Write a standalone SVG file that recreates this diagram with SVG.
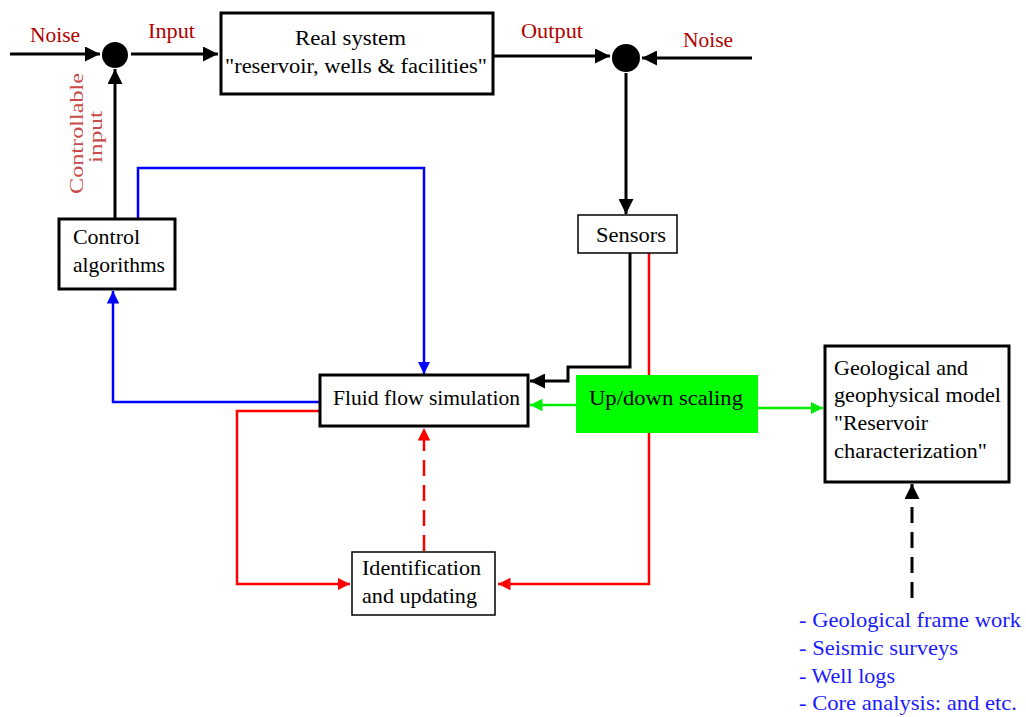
<svg xmlns="http://www.w3.org/2000/svg" width="1026" height="717" viewBox="0 0 1026 717">
<style>
text{font-family:"Liberation Serif","Times New Roman",serif;font-size:22px;fill:#000}
.lbl{fill:#b00000}
.ctl{fill:#c84a4a;font-size:19px}
.blu{fill:#1a1aff}
.box{fill:#fff;stroke:#000;stroke-width:3}
.thin{fill:#fff;stroke:#000;stroke-width:1.5}
.k{stroke:#000;stroke-width:3;fill:none}
.b{stroke:#0000ff;stroke-width:2.5;fill:none}
.r{stroke:#ff0000;stroke-width:2.5;fill:none}
.g{stroke:#00ee00;stroke-width:2.5;fill:none}
</style>
<defs>
<marker id="ak" viewBox="0 0 10 10" refX="10" refY="5" markerWidth="5" markerHeight="5" markerUnits="strokeWidth" orient="auto"><path d="M0,0 L10,5 L0,10 z" fill="#000"/></marker>
<marker id="ab" viewBox="0 0 10 10" refX="10" refY="5" markerWidth="5" markerHeight="5" markerUnits="strokeWidth" orient="auto"><path d="M0,0 L10,5 L0,10 z" fill="#0000ff"/></marker>
<marker id="ar" viewBox="0 0 10 10" refX="10" refY="5" markerWidth="5" markerHeight="5" markerUnits="strokeWidth" orient="auto"><path d="M0,0 L10,5 L0,10 z" fill="#ff0000"/></marker>
<marker id="ag" viewBox="0 0 10 10" refX="10" refY="5" markerWidth="5" markerHeight="5" markerUnits="strokeWidth" orient="auto"><path d="M0,0 L10,5 L0,10 z" fill="#00ee00"/></marker>
</defs>
<g id="connectors">
<path class="k" d="M10,54 H100" marker-end="url(#ak)"/>
<path class="k" d="M131,54 H218" marker-end="url(#ak)"/>
<path class="k" d="M115,218 V69" marker-end="url(#ak)"/>
<path class="k" d="M493,56 H610" marker-end="url(#ak)"/>
<path class="k" d="M752,58 H642" marker-end="url(#ak)"/>
<path class="k" d="M626,73 V214" marker-end="url(#ak)"/>
<path class="k" d="M630,253 V367 H568 V381 H530" marker-end="url(#ak)"/>
<path class="b" d="M138,218 V168 H424 V374" marker-end="url(#ab)"/>
<path class="b" d="M320,402 H113 V291" marker-end="url(#ab)"/>
<path class="r" d="M320,411 H237 V584 H350" marker-end="url(#ar)"/>
<path class="r" d="M649,253 V584 H498" marker-end="url(#ar)"/>
<path class="r" d="M424,551 V428" stroke-dasharray="16,9" marker-end="url(#ar)"/>
<path class="g" d="M576,405 H530" marker-end="url(#ag)"/>
<path class="g" d="M758,408 H823" marker-end="url(#ag)"/>
<path class="k" d="M912,598 V484" stroke-dasharray="16,9" marker-end="url(#ak)"/>
</g>
<g id="junction-left"><circle cx="115" cy="55" r="13" fill="#000"/></g>
<g id="junction-right"><circle cx="626" cy="58" r="14" fill="#000"/></g>
<g id="labels">
<text class="lbl" x="30" y="42" textLength="50" lengthAdjust="spacingAndGlyphs">Noise</text>
<text class="lbl" x="148" y="38" textLength="47" lengthAdjust="spacingAndGlyphs">Input</text>
<text class="lbl" x="521" y="38" textLength="62" lengthAdjust="spacingAndGlyphs">Output</text>
<text class="lbl" x="683" y="47" textLength="50" lengthAdjust="spacingAndGlyphs">Noise</text>
<text class="ctl" transform="translate(83,194) rotate(-90)" textLength="121" lengthAdjust="spacingAndGlyphs">Controllable</text>
<text class="ctl" transform="translate(102,163) rotate(-90)" textLength="52" lengthAdjust="spacingAndGlyphs">input</text>
</g>
<g id="real-system">
<rect class="box" x="221" y="13" width="272" height="81"/>
<text x="295" y="45" textLength="111" lengthAdjust="spacingAndGlyphs">Real system</text>
<text x="225" y="73" textLength="262" lengthAdjust="spacingAndGlyphs">"reservoir, wells &amp; facilities"</text>
</g>
<g id="control-algorithms">
<rect class="box" x="59" y="219" width="116" height="70"/>
<text x="73" y="244" textLength="67" lengthAdjust="spacingAndGlyphs">Control</text>
<text x="73" y="272" textLength="92" lengthAdjust="spacingAndGlyphs">algorithms</text>
</g>
<g id="sensors">
<rect class="thin" x="578" y="215" width="99" height="38"/>
<text x="596" y="242" textLength="70" lengthAdjust="spacingAndGlyphs">Sensors</text>
</g>
<g id="fluid-flow-simulation">
<rect class="box" x="320" y="375" width="208" height="51"/>
<text x="333" y="405" textLength="187" lengthAdjust="spacingAndGlyphs">Fluid flow simulation</text>
</g>
<g id="up-down-scaling">
<rect x="576" y="375" width="182" height="58" fill="#00ff00"/>
<text x="589" y="405" textLength="154" lengthAdjust="spacingAndGlyphs">Up/down scaling</text>
</g>
<g id="geological-model">
<rect class="box" x="825" y="346" width="184" height="136"/>
<text x="834" y="375" textLength="134" lengthAdjust="spacingAndGlyphs">Geological and</text>
<text x="834" y="402" textLength="167" lengthAdjust="spacingAndGlyphs">geophysical model</text>
<text x="834" y="430" textLength="94" lengthAdjust="spacingAndGlyphs">"Reservoir</text>
<text x="834" y="458" textLength="153" lengthAdjust="spacingAndGlyphs">characterization"</text>
</g>
<g id="identification">
<rect class="thin" x="352" y="552" width="143" height="63"/>
<text x="362" y="575" textLength="119" lengthAdjust="spacingAndGlyphs">Identification</text>
<text x="362" y="603" textLength="115" lengthAdjust="spacingAndGlyphs">and updating</text>
</g>
<g id="data-sources">
<text class="blu" x="799" y="627" textLength="222" lengthAdjust="spacingAndGlyphs">- Geological frame work</text>
<text class="blu" x="799" y="655" textLength="159" lengthAdjust="spacingAndGlyphs">- Seismic surveys</text>
<text class="blu" x="799" y="683" textLength="96" lengthAdjust="spacingAndGlyphs">- Well logs</text>
<text class="blu" x="799" y="710" textLength="218" lengthAdjust="spacingAndGlyphs">- Core analysis: and etc.</text>
</g>
</svg>
